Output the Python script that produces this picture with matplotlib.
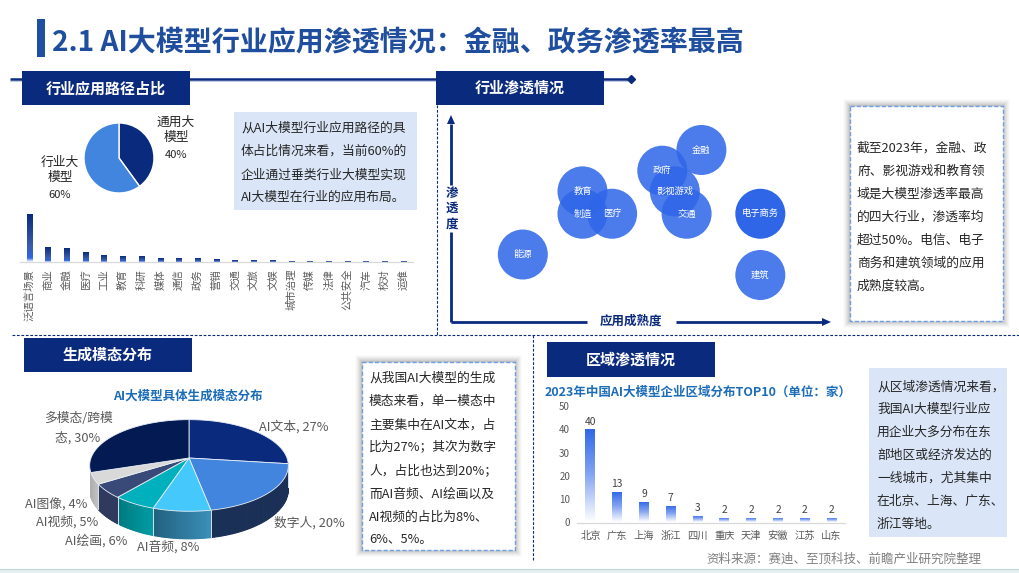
import numpy as np
import matplotlib
matplotlib.use("Agg")
import matplotlib.pyplot as plt
from matplotlib.patches import Rectangle, Ellipse, Polygon
from matplotlib.colors import LinearSegmentedColormap, to_rgb

plt.rcParams['font.family'] = ['Noto Sans CJK SC', 'DejaVu Sans']

W, H = 1019, 573
NAVY = '#0A2A7D'

# ---------------- data ----------------
path_names = ['通用大模型', '行业大模型']
path_values = [40, 60]

usecase_names = ['泛语言场景', '商业', '金融', '医疗', '工业', '教育', '科研', '媒体', '通信', '政务', '营销',
                 '交通', '文旅', '文娱', '城市治理', '传媒', '法律', '公共安全', '汽车', '校对', '运维']
usecase_values = [48, 15, 14, 10, 7, 6, 6, 4, 4, 4, 3, 2, 2, 2, 1, 1, 1, 1, 1, 1, 1]

bubble_names = ['金融', '政府', '影视游戏', '交通', '教育', '制造', '医疗', '电子商务', '能源', '建筑']
bubble_maturity = [65.9, 55.6, 58.9, 62.0, 34.6, 34.6, 42.4, 81.4, 18.9, 81.4]
bubble_penetration = [83.1, 73.1, 63.1, 52.3, 63.1, 52.3, 52.3, 52.3, 32.6, 22.7]

modal_names = ['AI文本', '数字人', 'AI音频', 'AI绘画', 'AI视频', 'AI图像', '多模态/跨模态']
modal_values = [27, 20, 8, 6, 5, 4, 30]

region_names = ['北京', '广东', '上海', '浙江', '四川', '重庆', '天津', '安徽', '江苏', '山东']
region_values = [40, 13, 9, 7, 3, 2, 2, 2, 2, 2]
region_ticks = [0, 10, 20, 30, 40, 50]

fig = plt.figure(figsize=(W / 100, H / 100), dpi=100, facecolor='white')


def axes_px(x0, y0, x1, y1, z=2):
    """axes given by pixel box (y measured from the top)."""
    ax = fig.add_axes([x0 / W, 1 - y1 / H, (x1 - x0) / W, (y1 - y0) / H], zorder=z)
    ax.patch.set_alpha(0)
    return ax


bg = axes_px(0, 0, W, H, z=1)
bg.set_xlim(0, W)
bg.set_ylim(H, 0)
bg.axis('off')

fg = axes_px(0, 0, W, H, z=5)
fg.set_xlim(0, W)
fg.set_ylim(H, 0)
fg.axis('off')


def gradient_bars(ax, bars, stops):
    cmap = LinearSegmentedColormap.from_list('g', stops)
    grad = np.linspace(1, 0, 128)[:, None]
    for b in bars:
        x, y, w, h = b.get_x(), b.get_y(), b.get_width(), b.get_height()
        im = ax.imshow(grad, extent=(x, x + w, y, y + h), cmap=cmap, aspect='auto', origin='upper',
                       vmin=0, vmax=1, zorder=2)
        im.set_clip_path(b)
        b.set_alpha(0)


def lines_text(ax, x, ys, lines, size, color='#262626'):
    for y, s in zip(ys, lines):
        ax.text(x, y, s, fontsize=size, color=color, va='center', ha='left')


def shadow_box(ax, x0, y0, x1, y1):
    for i, a in zip(range(7, 0, -1), [.02, .03, .04, .05, .06, .07, .09]):
        ax.add_patch(Rectangle((x0 - i, y0 - i), x1 - x0 + 2 * i, y1 - y0 + 2 * i, fc='#404040', ec='none', alpha=a))
    ax.add_patch(Rectangle((x0, y0), x1 - x0, y1 - y0, fc='white', ec='#6F9FE0', lw=1.0, ls=(0, (3, 1.5))))


# ---------------- frame ----------------
bg.add_patch(Rectangle((0, 569), W, 4, fc='#E3EFF1', ec='none'))
bg.plot([0, W], [569, 569], color='#C3D6D6', lw=0.8)
bg.add_patch(Rectangle((37, 19), 8, 38, fc='#1F4FA3', ec='none'))
bg.text(52, 43, '2.1 AI大模型行业应用渗透情况\uff1a金融、政务渗透率最高', fontsize=20.2, fontweight='bold',
        color='#1F4E9E', va='center', ha='left')
bg.plot([10, 631], [79, 79], color=NAVY, lw=1.8, solid_capstyle='butt')
bg.plot([10, 631], [80.5, 80.5], color='#B9C4DE', lw=0.6)
bg.plot([631], [79], marker='D', ms=4, color=NAVY)
dash = dict(color=NAVY, lw=0.8, ls=(0, (2.5, 1.5)))
bg.plot([437, 437], [105, 335], **dash)
bg.plot([12, W], [335, 335], **dash)
bg.plot([533, 533], [335, 560], **dash)

for (x0, y0, x1, y1, t) in [(22, 71, 190, 105, '行业应用路径占比'), (436, 71, 604, 105, '行业渗透情况'),
                            (24, 338, 192, 372, '生成模态分布'), (547, 342, 715, 377, '区域渗透情况')]:
    bg.add_patch(Rectangle((x0, y0), x1 - x0, y1 - y0, fc=NAVY, ec='none', zorder=4))
    bg.text((x0 + x1) / 2, (y0 + y1) / 2, t, color='white', fontsize=10.8, fontweight='bold',
            ha='center', va='center', zorder=5)

# ---------------- pie: path share ----------------
ax = axes_px(84, 123, 154, 193)
ax.pie(path_values, colors=[NAVY, '#4285DE'], startangle=90, counterclock=False, radius=1,
       wedgeprops=dict(edgecolor='white', linewidth=1.0))
ax.set_xlim(-1, 1)
ax.set_ylim(-1, 1)
fg.text(176, 122, '通用大', fontsize=9.2, color='#262626', ha='center', va='center')
fg.text(176, 138, '模型', fontsize=9.2, color='#262626', ha='center', va='center')
fg.text(176, 155, f'{path_values[0]}%', fontsize=8, color='#262626', ha='center', va='center')
fg.text(60, 162, '行业大', fontsize=9.2, color='#262626', ha='center', va='center')
fg.text(60, 178, '模型', fontsize=9.2, color='#262626', ha='center', va='center')
fg.text(60, 195, f'{path_values[1]}%', fontsize=8, color='#262626', ha='center', va='center')

bg.add_patch(Rectangle((234, 112), 183, 98, fc='#DAE6F7', ec='none'))
lines_text(bg, 241, [128, 151, 175, 197],
           ['从AI大模型行业应用路径的具', '体占比情况来看\uff0c当前60%的', '企业通过垂类行业大模型实现', 'AI大模型在行业的应用布局。'], 9.2)

# ---------------- bars: use cases ----------------
ax = axes_px(20, 214, 413, 262)
xs = np.arange(len(usecase_names))
bars = ax.bar(xs, usecase_values, width=0.3)
gradient_bars(ax, bars, [(0, '#FFFFFF'), (0.08, '#2F66E8'), (0.35, '#3A5BA8'), (1, NAVY)])
ax.set_xlim(-0.5, len(xs) - 0.5)
ax.set_ylim(0, 48)
for s in ['top', 'left', 'right']:
    ax.spines[s].set_visible(False)
ax.spines['bottom'].set_color('#D9D9D9')
ax.spines['bottom'].set_linewidth(0.9)
ax.set_yticks([])
ax.set_xticks(xs)
ax.set_xticklabels(usecase_names, rotation=90, fontsize=7.5, color='#595959', va='top', ha='center')
ax.tick_params(axis='x', length=0, pad=5)

# ---------------- bubbles ----------------
ax = axes_px(451, 115, 831, 322)
ax.set_xlim(0, 100)
ax.set_ylim(0, 100)
ax.axis('off')
dx = 50 / 3.8
dy = 50 / 2.07
for n, xv, yv in zip(bubble_names, bubble_maturity, bubble_penetration):
    a = 1.0 if n == '电子商务' else 0.86
    ax.add_patch(Ellipse((xv, yv), dx, dy, fc='#2F66E8', alpha=a, ec='none'))
    ax.text(xv, yv, n, color='white', fontsize=6.7, ha='center', va='center', zorder=4)

arrow = dict(color=NAVY, lw=2.0, solid_capstyle='butt')
bg.plot([451, 451], [322, 232], **arrow)
bg.plot([451, 451], [185, 124], **arrow)
bg.plot([451, 587], [322, 322], **arrow)
bg.plot([676, 822], [322, 322], **arrow)
bg.add_patch(Polygon([[451, 115], [447, 124], [455, 124]], fc=NAVY, ec='none'))
bg.add_patch(Polygon([[831, 322], [822, 318], [822, 326]], fc=NAVY, ec='none'))
for y, c in zip([193, 208, 224], '渗透度'):
    bg.text(452, y, c, color=NAVY, fontsize=9, fontweight='bold', ha='center', va='center')
bg.text(631, 321, '应用成熟度', color=NAVY, fontsize=9, fontweight='bold', ha='center', va='center')

shadow_box(bg, 850, 106, 1003, 321)
lines_text(bg, 857, [148, 171, 194, 217, 240, 263, 286],
           ['截至2023年\uff0c金融、政', '府、影视游戏和教育领', '域是大模型渗透率最高', '的四大行业\uff0c渗透率均',
            '超过50%。电信、电子', '商务和建筑领域的应用', '成熟度较高。'], 9.2)

# ---------------- 3D pie ----------------
fg.text(188, 396, 'AI大模型具体生成模态分布', fontsize=9, fontweight='bold', color='#1C6DB8', ha='center', va='center')
cx, cy, R, K, P, depth = 189, 458, 98, 44.6, 0.163, 23
top_cols = ['#0A2A7D', '#4285DE', '#45C8FC', '#00B0BC', '#3A4A78', '#D9D9D9', '#041A52']
side_a = ['#0A2A7D', '#1B3056', '#3B8FB8', '#009CA4', '#2F3A5E', '#C4C4C4', '#041A52']
side_b = ['#0A2A7D', '#1B3056', '#22617F', '#007A7E', '#2F3A5E', '#B0B0B0', '#041A52']


def proj(theta, r=1.0):
    u, v = r * np.sin(theta), r * np.cos(theta)
    s = 1 / (1 + P * v)
    return cx + R * u * s, cy - K * v * s, s


edges = np.cumsum([0] + modal_values) / sum(modal_values) * 2 * np.pi
for i, (t0, t1) in enumerate(zip(edges[:-1], edges[1:])):
    if i in (0, 6):
        continue
    ts = np.linspace(t0, t1, 40)
    ts = ts[ts > 1.35]
    ca, cb = np.array(to_rgb(side_a[i])), np.array(to_rgb(side_b[i]))
    for j in range(len(ts) - 1):
        x0, y0, s0 = proj(ts[j])
        x1, y1, s1 = proj(ts[j + 1])
        f = j / max(1, len(ts) - 2)
        col = ca * (1 - f) + cb * f
        bg.add_patch(Polygon([[x0, y0], [x1, y1], [x1, y1 + depth * s1], [x0, y0 + depth * s0]],
                             fc=col, ec=col, lw=0.8, zorder=3))
for t1 in edges[1:6]:
    if np.pi / 2 < t1 < 1.42 * np.pi:
        x1, y1, s1 = proj(t1)
        bg.plot([x1, x1], [y1, y1 + depth * s1], color='#D8E2EE', lw=0.7, zorder=3.2)
for i, (t0, t1) in enumerate(zip(edges[:-1], edges[1:])):
    ts = np.linspace(t0, t1, 80)
    x, y, _ = proj(ts)
    pts = np.column_stack([np.r_[cx, x], np.r_[cy, y]])
    bg.add_patch(Polygon(pts, fc=top_cols[i], ec='#E8EEF5', lw=0.6, zorder=3.5))

label_pos = [(259.5, 427), (274, 523), (137, 547), (65, 541), (36.5, 522), (25, 505)]
for (x, y), n, v in zip(label_pos, modal_names[:6], modal_values[:6]):
    fg.text(x, y, f'{n}, {v}%', fontsize=9.2, color='#595959', ha='left', va='center')
fg.text(78, 418, modal_names[6][:6], fontsize=9.2, color='#595959', ha='center', va='center')
fg.text(78, 438, f'{modal_names[6][6:]}, {modal_values[6]}%', fontsize=9.2, color='#595959', ha='center', va='center')

shadow_box(bg, 362, 362, 515, 550)
lines_text(bg, 369, [378, 401, 425, 447, 471, 494, 517, 539],
           ['从我国AI大模型的生成', '模态来看\uff0c单一模态中', '主要集中在AI文本\uff0c占', '比为27%\uff1b其次为数字',
            '人\uff0c占比也达到20%\uff1b', '而AI音频、AI绘画以及', 'AI视频的占比为8%、', '6%、5%。'], 9.2)

# ---------------- region bars ----------------
fg.text(545, 392, '2023年中国AI大模型企业区域分布TOP10\uff08单位\uff1a家\uff09', fontsize=9, fontweight='bold',
        color='#1C6DB8', ha='left', va='center')
ax = axes_px(577, 406, 845, 522.5)
xs = np.arange(len(region_names))
bars = ax.bar(xs, region_values, width=0.37)
gradient_bars(ax, bars, [(0, '#FFFFFF'), (0.5, '#86A6F2'), (1, '#2F66E8')])
ax.set_xlim(-0.5, len(xs) - 0.5)
ax.set_ylim(0, 50)
for s in ['top', 'left', 'right']:
    ax.spines[s].set_visible(False)
ax.spines['bottom'].set_color('#D9D9D9')
ax.spines['bottom'].set_linewidth(0.9)
ax.set_xticks(xs)
ax.set_xticklabels(region_names, fontsize=7.4, color='#595959')
ax.set_yticks(region_ticks)
ax.set_yticklabels([str(t) for t in region_ticks], fontsize=7, color='#595959')
ax.tick_params(axis='both', length=0)
ax.tick_params(axis='x', pad=6)
ax.tick_params(axis='y', pad=5)
for x, v in zip(xs, region_values):
    ax.text(x, v + 1.2, str(v), fontsize=7.4, color='#404040', ha='center', va='bottom')

bg.add_patch(Rectangle((869, 368), 138, 169, fc='#DAE6F7', ec='none'))
lines_text(bg, 877, [387, 409, 432, 455, 478, 501, 524],
           ['从区域渗透情况来看\uff0c', '我国AI大模型行业应', '用企业大多分布在东', '部地区或经济发达的',
            '一线城市\uff0c尤其集中', '在北京、上海、广东、', '浙江等地。'], 9.2)

bg.text(844, 559, '资料来源\uff1a赛迪、至顶科技、前瞻产业研究院整理', fontsize=9, color='#7F7F7F', ha='center', va='center')

fig.savefig('out.png', dpi=100)
